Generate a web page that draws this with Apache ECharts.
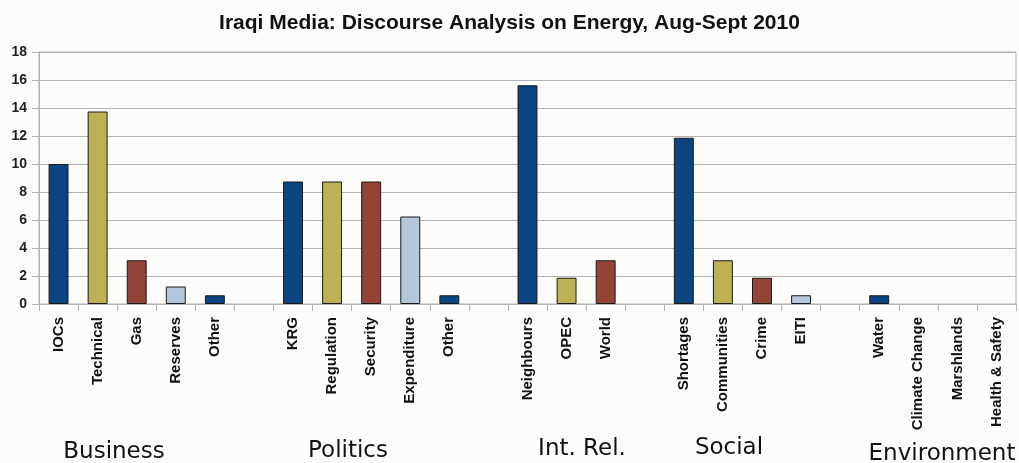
<!DOCTYPE html>
<html>
<head>
<meta charset="utf-8">
<script src="https://cdn.jsdelivr.net/npm/echarts@6/dist/echarts.min.js"></script>
<style>
html,body{margin:0;padding:0;background:#fcfcfa;}
#chart{width:1019px;height:463px;}
</style>
</head>
<body>
<div id="chart"></div>
<script>
const titleText = 'Iraqi Media: Discourse Analysis on Energy, Aug-Sept 2010';
const categories = ['IOCs','Technical','Gas','Reserves','Other','',
  'KRG','Regulation','Security','Expenditure','Other','',
  'Neighbours','OPEC','World','',
  'Shortages','Communities','Crime','EITI','',
  'Water','Climate Change','Marshlands','Health & Safety'];
const values = [10, 13.75, 3.125, 1.25, 0.625, null,
  8.75, 8.75, 8.75, 6.25, 0.625, null,
  15.625, 1.875, 3.125, null,
  11.875, 3.125, 1.875, 0.625, null,
  0.625, 0, 0, 0];
const yTicks = [0, 2, 4, 6, 8, 10, 12, 14, 16, 18];
const groupNames = ['Business', 'Politics', 'Int. Rel.', 'Social', 'Environment'];
const groupLabelX = [114, 348, 582, 729, 942];
const groupLabelY = [452, 451, 449, 448, 454];
const palette = ['#0b4581', '#beb055', '#944437', '#b3c8dd'];

// colour by position within group
let pos = 0;
const barData = values.map((v, i) => {
  if (categories[i] === '') { pos = 0; return null; }
  const c = palette[pos % palette.length];
  pos++;
  return {
    value: v,
    itemStyle: { color: c, borderColor: '#1a1a1a', borderWidth: v ? 1 : 0 }
  };
});

const chart = echarts.init(document.getElementById('chart'), null, {renderer: 'canvas'});
chart.setOption({
  backgroundColor: '#fcfcfa',
  animation: false,
  title: {
    text: titleText,
    left: 'center',
    top: 8,
    textStyle: { fontFamily: 'Liberation Sans', fontWeight: 'bold', fontSize: 21, color: '#111' }
  },
  grid: { left: 39, right: 3, top: 52, bottom: 159, containLabel: false, show: true, borderColor: '#b3b3b3', borderWidth: 1 },
  xAxis: {
    type: 'category',
    data: categories,
    boundaryGap: true,
    axisLine: { show: true, lineStyle: { color: '#b3b3b3', width: 1 } },
    axisTick: { show: true, interval: 0, length: 7, lineStyle: { color: '#b3b3b3' } },
    axisLabel: {
      interval: 0, rotate: 90, margin: 13,
      fontFamily: 'Liberation Sans', fontWeight: 'bold', fontSize: 15, color: '#111'
    }
  },
  yAxis: {
    type: 'value',
    min: yTicks[0],
    max: yTicks[yTicks.length - 1],
    interval: 2,
    axisLine: { show: true, lineStyle: { color: '#b3b3b3', width: 1 } },
    axisTick: { show: true, length: 7, lineStyle: { color: '#b3b3b3' } },
    axisLabel: { margin: 12, fontFamily: 'Liberation Sans', fontWeight: 'bold', fontSize: 14, color: '#222' },
    splitLine: { show: true, lineStyle: { color: '#b3b3b3', width: 1 } }
  },
  series: [{
    type: 'bar',
    data: barData,
    barWidth: '51%'
  }],
  graphic: groupNames.map((name, i) => ({
    type: 'text',
    x: groupLabelX[i],
    y: groupLabelY[i],
    style: {
      text: name,
      fontFamily: 'DejaVu Sans',
      fontSize: 23,
      fill: '#111',
      textAlign: 'center',
      textVerticalAlign: 'middle'
    }
  }))
});
</script>
</body>
</html>
